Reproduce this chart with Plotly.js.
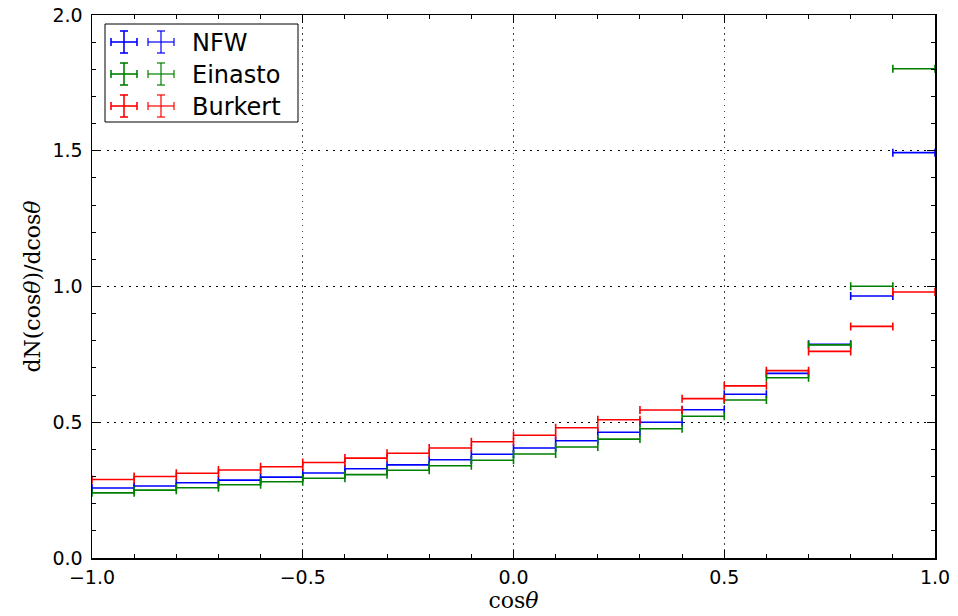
<!DOCTYPE html>
<html>
<head>
<meta charset="utf-8">
<script src="https://cdn.plot.ly/plotly-3.0.1.min.js"></script>
<style>html,body{margin:0;padding:0;background:#fff;}#chart{width:958px;height:616px;}</style>
</head>
<body>
<div id="chart"></div>
<script>
var binCenters = [-0.95,-0.85,-0.75,-0.65,-0.55,-0.45,-0.35,-0.25,-0.15,-0.05,0.05,0.15,0.25,0.35,0.45,0.55,0.65,0.75,0.85,0.95];
var binHalfWidth = 0.05;
var nfw = [0.258,0.265,0.277,0.287,0.298,0.313,0.329,0.343,0.362,0.382,0.405,0.432,0.463,0.500,0.546,0.603,0.680,0.787,0.965,1.493];
var einasto = [0.240,0.250,0.259,0.270,0.281,0.294,0.307,0.323,0.340,0.360,0.383,0.409,0.438,0.476,0.522,0.582,0.664,0.785,1.001,1.802];
var burkert = [0.289,0.300,0.312,0.324,0.336,0.352,0.368,0.386,0.405,0.428,0.452,0.480,0.509,0.545,0.587,0.634,0.690,0.761,0.853,0.980];
var seriesNames = ['NFW','Einasto','Burkert'];
var seriesColors = ['#0000ff','#008000','#ff0000'];
var seriesValues = [nfw, einasto, burkert];

var traces = seriesValues.map(function(vals, i){
  return {
    type:'scatter', mode:'markers', x: binCenters, y: vals, name: seriesNames[i],
    marker:{size:1, opacity:0, color: seriesColors[i]},
    error_x:{type:'constant', value: binHalfWidth, color: seriesColors[i], thickness:1.6, width:4},
    showlegend:false, hoverinfo:'x+y'
  };
});

// custom legend (matplotlib style, two error-bar glyphs per entry)
var W=958,H=616,L=92,R=935,T=15,B=558;
function px(x){return (x-L)/(R-L);}
function py(y){return (B-y)/(B-T);}
var shapes=[];
shapes.push({type:'rect',xref:'paper',yref:'paper',x0:px(105),x1:px(298),y0:py(24),y1:py(122),line:{color:'#000',width:1},fillcolor:'rgba(255,255,255,1)',layer:'above'});
var annotations=[];
var rowY=[42,74,106];
var glyphX=[124,161];
seriesNames.forEach(function(n,i){
  var cy=rowY[i];
  glyphX.forEach(function(cx,k){
    var op = k===0?1:0.75;
    var c = seriesColors[i];
    var segs=[[cx-13,cy,cx+13,cy],[cx,cy-11,cx,cy+11],[cx-13,cy-4,cx-13,cy+4],[cx+13,cy-4,cx+13,cy+4],[cx-4,cy-11,cx+4,cy-11],[cx-4,cy+11,cx+4,cy+11]];
    segs.forEach(function(s){
      shapes.push({type:'line',xref:'paper',yref:'paper',x0:px(s[0]),y0:py(s[1]),x1:px(s[2]),y1:py(s[3]),line:{color:c,width:1.6},opacity:op,layer:'above'});
    });
  });
  annotations.push({xref:'paper',yref:'paper',x:px(190),y:py(cy+1),xanchor:'left',yanchor:'middle',showarrow:false,text:n,font:{family:'DejaVu Sans',size:24,color:'#000'}});
});

var axisCommon = {
  showline:true, linecolor:'#000', linewidth:1.5, mirror:'allticks',
  ticks:'inside', ticklen:8, tickwidth:1, tickcolor:'#000',
  showgrid:true, gridwidth:1,
  zeroline:false, tickfont:{family:'DejaVu Sans', size:19, color:'#000'},
  minor:{ticks:'inside', ticklen:4, tickwidth:1, tickcolor:'#000', dtick:0.1, showgrid:false}
};
var layout = {
  width:W, height:H, margin:{l:L, r:W-R, t:T, b:H-B}, paper_bgcolor:'#fff', plot_bgcolor:'#fff',
  xaxis: Object.assign({}, axisCommon, {range:[-1,1], dtick:0.5, tick0:0, tickformat:'.1f',
    gridcolor:'#444', griddash:'1.5px,4.5px', ticklabelstandoff:2,
    title:{text:'cos<i>θ</i>', font:{family:'DejaVu Serif', size:22, color:'#000'}, standoff:4}}),
  yaxis: Object.assign({}, axisCommon, {range:[0,2], dtick:0.5, tick0:0, tickformat:'.1f',
    gridcolor:'#000', griddash:'2px,5.3px', ticklabelstandoff:4,
    title:{text:'dN(cos<i>θ</i>)/dcos<i>θ</i>', font:{family:'DejaVu Serif', size:22, color:'#000'}, standoff:6}}),
  shapes: shapes, annotations: annotations, showlegend:false
};
Plotly.newPlot('chart', traces, layout, {displayModeBar:false, staticPlot:true});
</script>
</body>
</html>
